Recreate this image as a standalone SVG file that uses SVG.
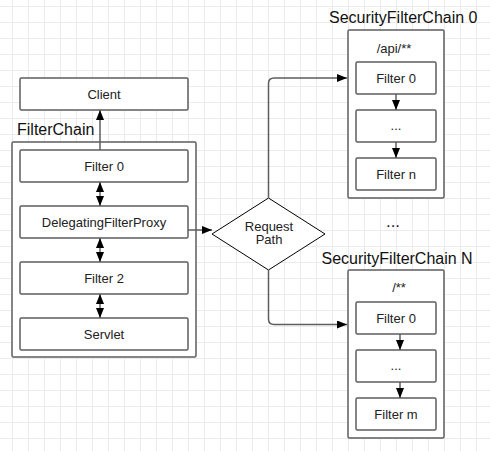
<svg xmlns="http://www.w3.org/2000/svg" width="490" height="451" viewBox="0 0 490 451">
<defs>
<pattern id="grid" x="12" y="6" width="16" height="16" patternUnits="userSpaceOnUse">
<path d="M0.5 0V16M0 0.5H16" fill="none" stroke="#ebebeb" stroke-width="1"/>
</pattern>
<marker id="ah" viewBox="0 0 10 8" refX="10" refY="4" markerWidth="10" markerHeight="8" markerUnits="userSpaceOnUse" orient="auto-start-reverse">
<path d="M0 0L10 4L0 8Z" fill="#000"/>
</marker>
</defs>
<style>
.box{fill:#fff;stroke:#5e5e5e;stroke-width:1.5}
.t{font-family:"Liberation Sans",Arial,sans-serif;font-size:13px;fill:#222;text-anchor:middle}
.title{font-family:"Liberation Sans",Arial,sans-serif;font-size:16px;fill:#111}
.c{fill:none;stroke:#5e5e5e;stroke-width:1.5}
</style>
<rect width="490" height="451" fill="#fff"/>
<rect width="490" height="451" fill="url(#grid)"/>

<g id="filterchain">
<text class="title" x="17" y="135">FilterChain</text>
<rect class="box" x="12" y="142" width="184" height="215" rx="1.5"/>
</g>
<g id="client"><rect class="box" x="20" y="78" width="168" height="32" rx="1.5"/><text class="t" x="104" y="98.5">Client</text></g>
<g id="filter0"><rect class="box" x="20" y="150" width="168" height="32" rx="1.5"/><text class="t" x="104" y="170.5">Filter 0</text></g>
<g id="dfp"><rect class="box" x="20" y="206" width="168" height="32" rx="1.5"/><text class="t" x="104" y="226.5">DelegatingFilterProxy</text></g>
<g id="filter2"><rect class="box" x="20" y="262" width="168" height="32" rx="1.5"/><text class="t" x="104" y="282.5">Filter 2</text></g>
<g id="servlet"><rect class="box" x="20" y="318" width="168" height="32" rx="1.5"/><text class="t" x="104" y="338.5">Servlet</text></g>

<g id="decision">
<path d="M212 234L268.5 198L325 234L268.5 270Z" fill="#fff" stroke="#000" stroke-width="1"/>
<text class="t" x="269" y="230.5">Request</text>
<text class="t" x="269" y="244">Path</text>
</g>

<g id="sfc0">
<text class="title" x="329" y="23">SecurityFilterChain 0</text>
<rect class="box" x="348" y="30" width="96" height="168" rx="1.5"/>
<text class="t" x="394" y="53">/api/**</text>
<rect class="box" x="356" y="62" width="80" height="32" rx="1.5"/><text class="t" x="396" y="82.5">Filter 0</text>
<rect class="box" x="356" y="110" width="80" height="32" rx="1.5"/><text class="t" x="396" y="130">...</text>
<rect class="box" x="356" y="158" width="80" height="32" rx="1.5"/><text class="t" x="396" y="178.5">Filter n</text>
</g>

<g id="more"><text class="t" x="393" y="227" style="font-size:17px">...</text></g>

<g id="sfcN">
<text class="title" x="321.5" y="263.5">SecurityFilterChain N</text>
<rect class="box" x="348" y="270" width="96" height="168" rx="1.5"/>
<text class="t" x="399" y="291.5">/**</text>
<rect class="box" x="356" y="302" width="80" height="32" rx="1.5"/><text class="t" x="396" y="322.5">Filter 0</text>
<rect class="box" x="356" y="350" width="80" height="32" rx="1.5"/><text class="t" x="396" y="370">...</text>
<rect class="box" x="356" y="398" width="80" height="32" rx="1.5"/><text class="t" x="396" y="418.5">Filter m</text>
</g>

<g id="connectors">
<path class="c" d="M100 150V110" marker-end="url(#ah)"/>
<path class="c" d="M100 182V206" marker-start="url(#ah)" marker-end="url(#ah)"/>
<path class="c" d="M100 238V262" marker-start="url(#ah)" marker-end="url(#ah)"/>
<path class="c" d="M100 294V318" marker-start="url(#ah)" marker-end="url(#ah)"/>
<path class="c" d="M188 230H212" marker-end="url(#ah)"/>
<path class="c" d="M268.5 198V83.5Q268.5 78 274 78H347" marker-end="url(#ah)"/>
<path class="c" d="M268.5 270V319Q268.5 324.5 274 324.5H347" marker-end="url(#ah)"/>
<path class="c" d="M396 94V110" marker-end="url(#ah)"/>
<path class="c" d="M396 142V158" marker-end="url(#ah)"/>
<path class="c" d="M400 334V350" marker-end="url(#ah)"/>
<path class="c" d="M400 382V398" marker-end="url(#ah)"/>
</g>
</svg>
